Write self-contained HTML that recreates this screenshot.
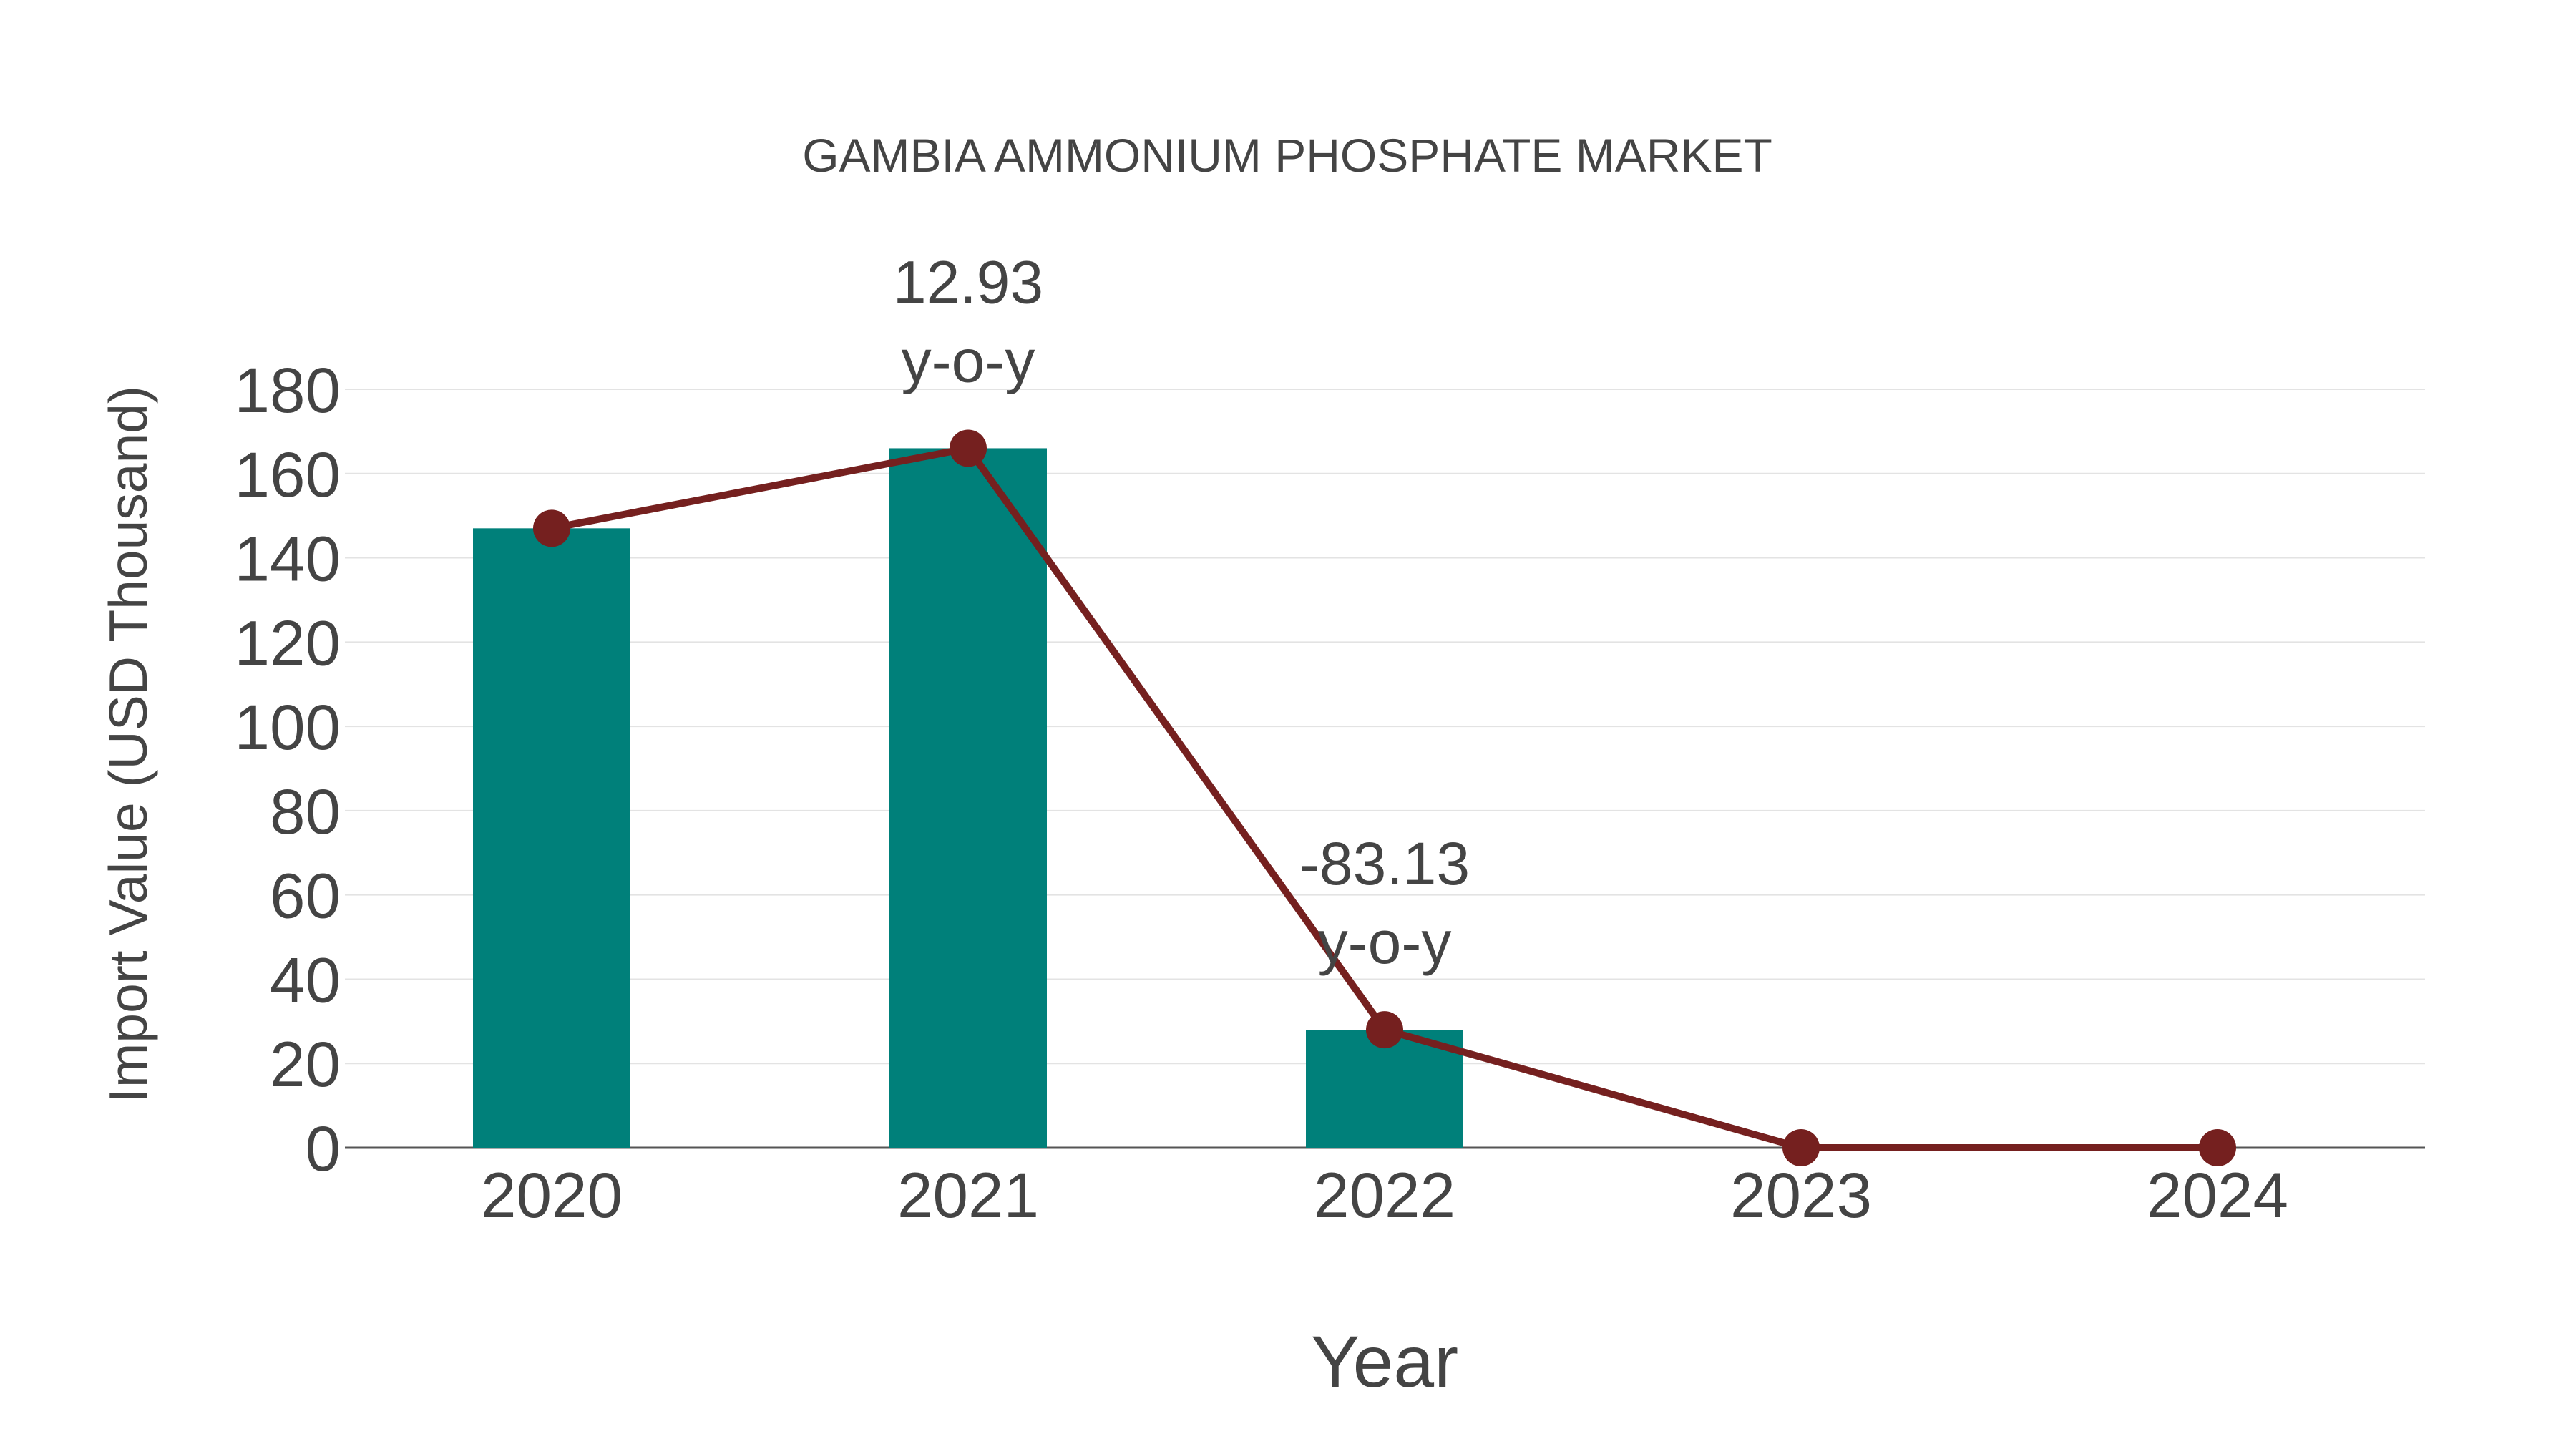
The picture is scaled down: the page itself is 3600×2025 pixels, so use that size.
<!DOCTYPE html>
<html><head><meta charset="utf-8"><style>
html,body{margin:0;padding:0;background:#fff}
svg{display:block}
text{font-family:"Liberation Sans",sans-serif;fill:#444}
</style></head><body>
<svg id="chart" width="3600" height="2025" xmlns="http://www.w3.org/2000/svg">
<text x="1799" y="240" font-size="66" text-anchor="middle">GAMBIA AMMONIUM PHOSPHATE MARKET</text>
<text transform="translate(205,1040) rotate(-90)" font-size="75" text-anchor="middle">Import Value (USD Thousand)</text>
<text x="1935" y="1938" font-size="102" text-anchor="middle">Year</text>
<g id="grid"></g>
<g id="bars"></g>
<g id="line"></g>
<g id="labels"></g>
</svg>
<script>
const categories=["2020","2021","2022","2023","2024"];
const values=[147,166,28,0,0];
const yTicks=[0,20,40,60,80,100,120,140,160,180];
const annotations=["","12.93","-83.13","",""];
const NS="http://www.w3.org/2000/svg";
const L=482,R=3389,Y0=1604,Y180=544;
function y(v){return Y0-(v/180)*(Y0-Y180);}
function x(i){return 771+i*582;}
function mk(t,a,p){const e=document.createElementNS(NS,t);for(const k in a)e.setAttribute(k,a[k]);document.getElementById(p).appendChild(e);return e;}
yTicks.forEach(v=>{
  if(v>0){const g=mk('line',{x1:L,x2:R,y1:y(v),y2:y(v),stroke:'#e3e3e3','stroke-width':2},'grid');
  
  }
  const t=mk('text',{x:476,y:y(v)+32,'font-size':89,'text-anchor':'end'},'labels');t.textContent=v;
  
  
});
const ax=mk('line',{x1:L,x2:R,y1:Y0,y2:Y0,stroke:'#555','stroke-width':3},'grid');


categories.forEach((c,i)=>{
  const b=mk('rect',{x:x(i)-110,y:y(values[i]),width:220,height:Y0-y(values[i]),fill:'#00807a'},'bars');
  
  
  const t=mk('text',{x:x(i),y:1701,'font-size':89,'text-anchor':'middle'},'labels');t.textContent=c;
  
  
  if(annotations[i]){
    const a=mk('text',{x:x(i),y:y(values[i])-203,'font-size':84,'text-anchor':'middle'},'labels');a.textContent=annotations[i];
    
    
    const b2=mk('text',{x:x(i),y:y(values[i])-93,'font-size':84,'text-anchor':'middle'},'labels');b2.textContent='y-o-y';
    
    
  }
});
const pts=values.map((v,i)=>x(i)+','+y(v)).join(' ');
const pl=mk('polyline',{points:pts,fill:'none',stroke:'#75201f','stroke-width':10},'line');


values.forEach((v,i)=>{
  const c=mk('circle',{cx:x(i),cy:y(v),r:26,fill:'#75201f'},'line');
  
  
});
</script>
</body></html>
